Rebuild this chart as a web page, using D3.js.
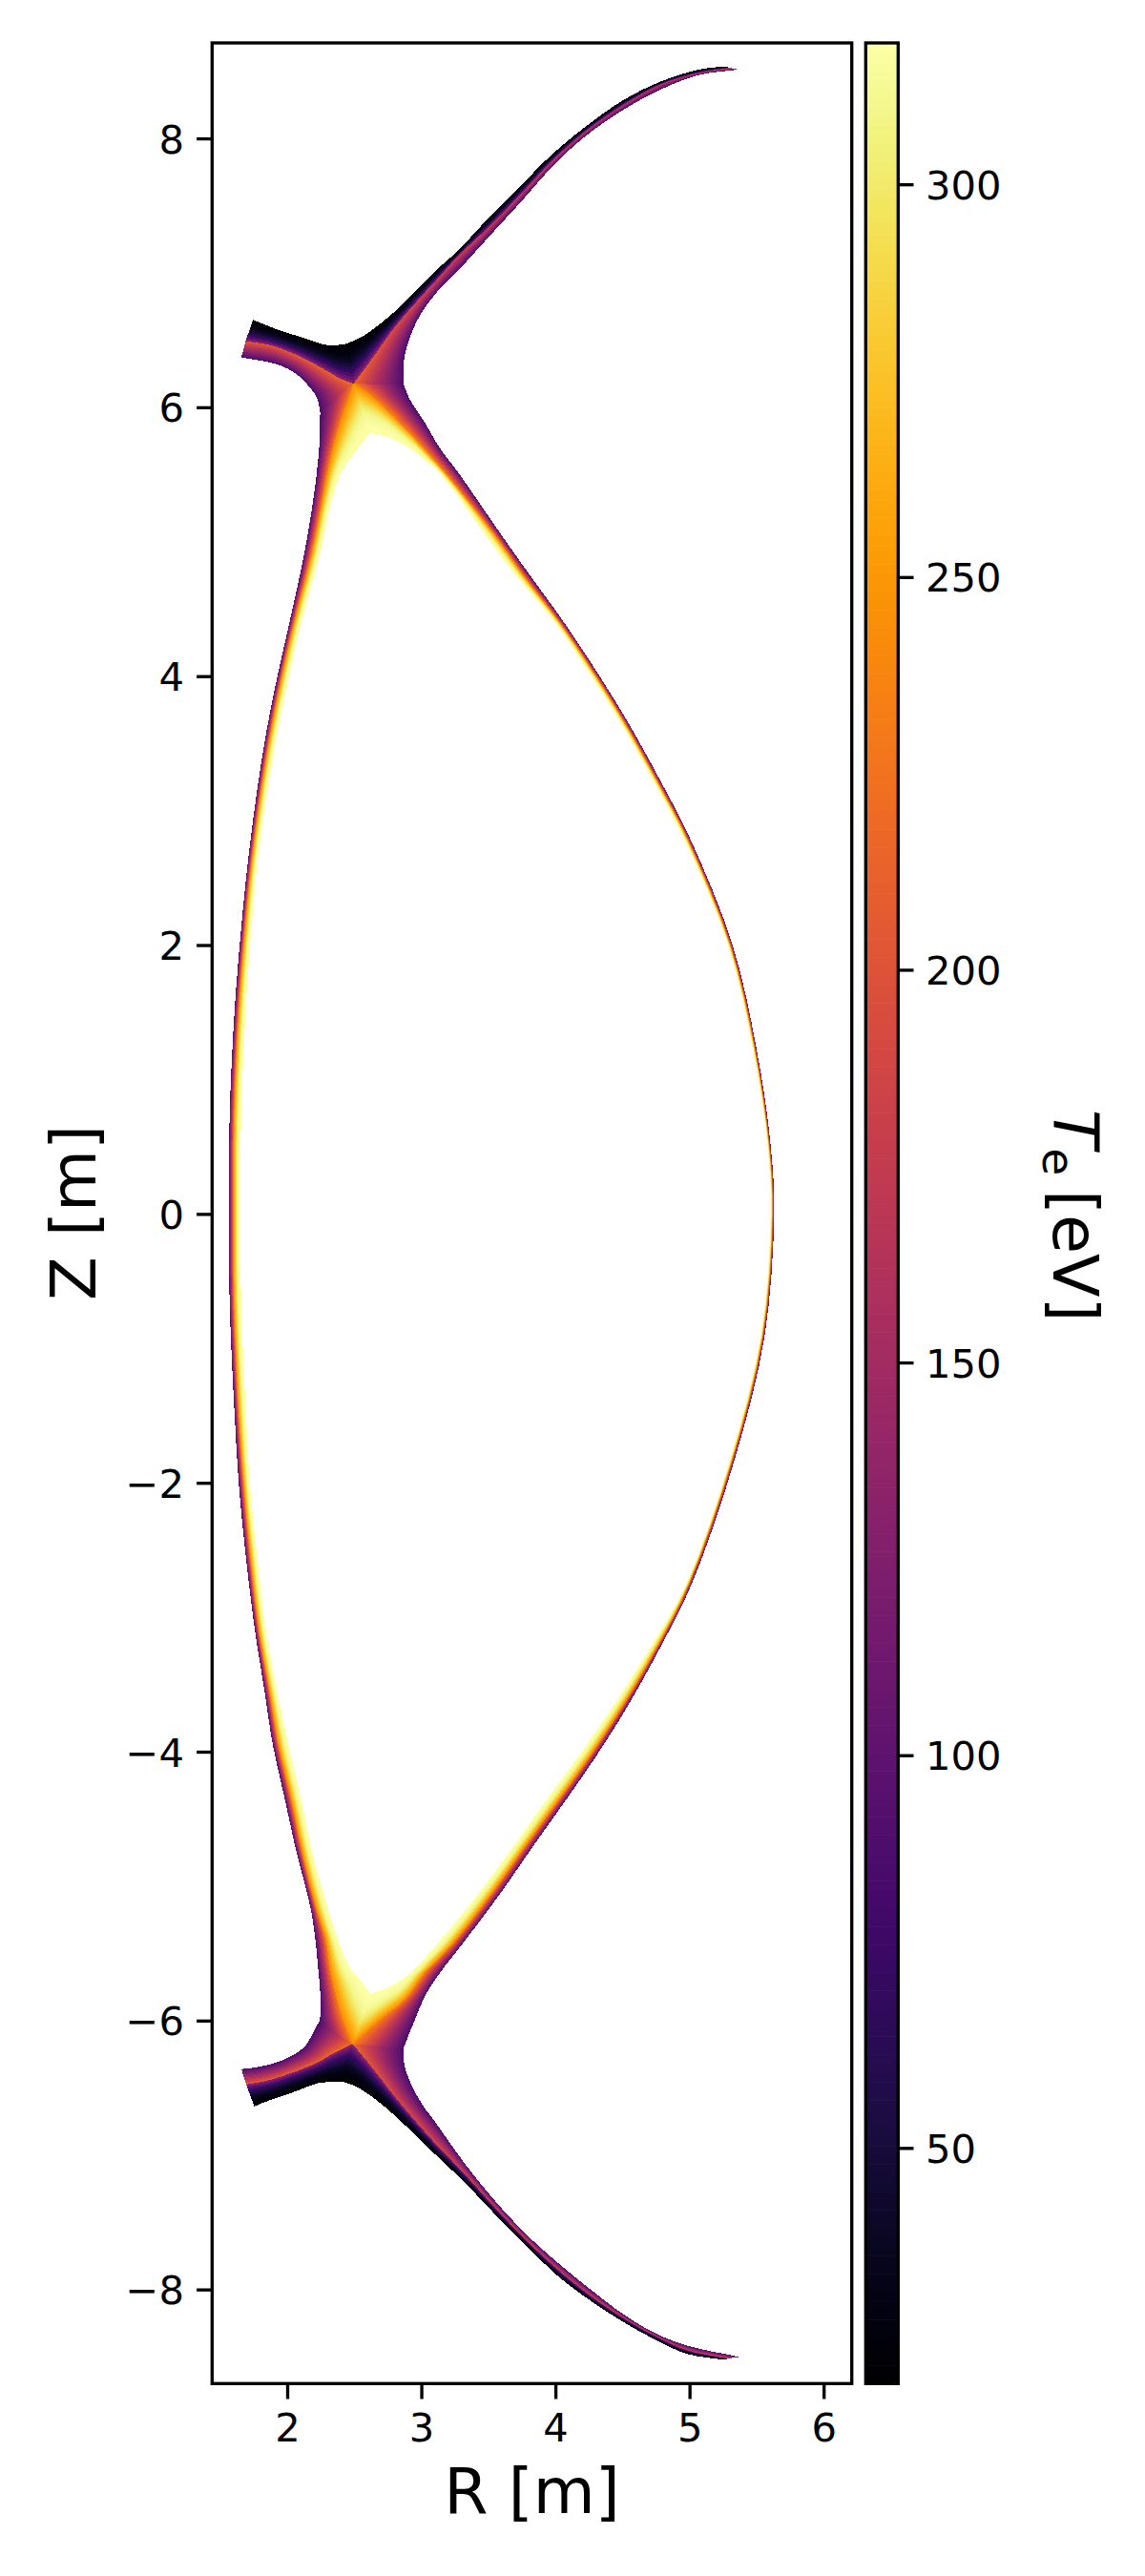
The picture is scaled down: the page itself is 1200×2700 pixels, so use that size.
<!DOCTYPE html>
<html>
<head>
<meta charset="utf-8">
<script src="https://cdnjs.cloudflare.com/ajax/libs/d3/7.8.5/d3.min.js"></script>
<style>
html,body{margin:0;padding:0;background:#fff}
svg{display:block}
text{font-family:"DejaVu Sans";fill:#000}
.axis path,.axis line{stroke:#000;stroke-width:3.33px}
.axis text{font-size:41.67px;font-family:"DejaVu Sans";fill:#000}
</style>
</head>
<body>
<svg id="chart" width="1200" height="2700"></svg>
<script>
// ---------- tick labels ----------
const rTicks = [2,3,4,5,6];
const zTicks = [-8,-6,-4,-2,0,2,4,6,8];
const teTicks = [50,100,150,200,250,300];

// ---------- limits ----------
const rDomain = [1.44,6.21];
const zDomain = [-8.70,8.71];
const teDomain = [20,318];

// ---------- upper right divertor leg: tip -> X-point corner, [R,Z] ----------
const upperRightEdge = [[5.371,8.512],[5.072,8.472],[4.788,8.365],[4.504,8.211],[4.220,8.013],[3.986,7.800],[3.751,7.537],[3.510,7.275],[3.276,7.019],[3.134,6.877],[2.991,6.686],[2.899,6.473],[2.866,6.309],[2.869,6.167]];
const upperRightSep = [[5.300,8.524],[5.072,8.488],[4.788,8.403],[4.504,8.247],[4.220,8.048],[3.986,7.842],[3.751,7.594],[3.510,7.346],[3.276,7.126],[3.134,6.969],[2.991,6.813],[2.800,6.593],[2.636,6.366],[2.494,6.175]];
const upperRightPriv = [[5.264,8.536],[5.072,8.512],[4.788,8.424],[4.504,8.283],[4.220,8.084],[3.964,7.871],[3.751,7.658],[3.510,7.417],[3.276,7.168],[3.134,7.040],[2.942,6.849],[2.755,6.671],[2.565,6.529],[2.445,6.473]];
const upperRightPeakT = [185,170,165,165,170,175,178,180,182,185,190,195,205,215];

// ---------- upper left divertor leg: target -> X-point corner ----------
const upperLeftEdge = [[1.658,6.371],[1.926,6.319],[2.068,6.248],[2.163,6.153],[2.222,6.070],[2.246,5.962]];
const upperLeftSep = [[1.690,6.492],[1.876,6.461],[2.068,6.390],[2.232,6.307],[2.400,6.212],[2.494,6.175]];
const upperLeftPriv = [[1.744,6.650],[1.926,6.579],[2.125,6.515],[2.281,6.465],[2.366,6.462],[2.445,6.473]];
const upperLeftPeakT = [205,205,208,212,216,220];

// ---------- lower left divertor leg: X-point corner -> target ----------
const lowerLeftEdge = [[2.239,-6.004],[2.175,-6.125],[2.116,-6.208],[1.947,-6.302],[1.784,-6.345],[1.658,-6.361]];
const lowerLeftSep = [[2.487,-6.175],[2.329,-6.252],[2.232,-6.309],[1.997,-6.402],[1.834,-6.451],[1.694,-6.475]];
const lowerLeftPriv = [[2.423,-6.458],[2.317,-6.458],[2.234,-6.465],[1.997,-6.551],[1.869,-6.593],[1.754,-6.638]];
const lowerLeftPeakT = [220,216,212,208,205,205];

// ---------- lower right divertor leg: X-point corner -> tip ----------
const lowerRightEdge = [[2.866,-6.208],[2.873,-6.324],[2.920,-6.465],[3.015,-6.636],[3.084,-6.728],[3.323,-7.062],[3.560,-7.353],[3.794,-7.601],[4.033,-7.814],[4.270,-8.006],[4.504,-8.183],[4.744,-8.325],[4.980,-8.417],[5.371,-8.502]];
const lowerRightSep = [[2.487,-6.175],[2.565,-6.267],[2.686,-6.416],[2.800,-6.563],[3.084,-6.891],[3.323,-7.140],[3.560,-7.402],[3.794,-7.644],[4.033,-7.864],[4.270,-8.053],[4.504,-8.211],[4.744,-8.346],[4.980,-8.451],[5.286,-8.514]];
const lowerRightPriv = [[2.423,-6.458],[2.516,-6.492],[2.658,-6.586],[2.800,-6.705],[3.084,-6.977],[3.323,-7.204],[3.560,-7.452],[3.794,-7.686],[4.033,-7.913],[4.270,-8.089],[4.504,-8.240],[4.744,-8.373],[4.980,-8.479],[5.264,-8.524]];
const lowerRightPeakT = [215,205,198,192,188,186,184,182,180,178,176,176,178,190];

// ---------- inboard side: upper X-point -> lower X-point ----------
const inboardEdge = [[2.246,5.962],[2.239,5.713],[2.222,5.529],[2.198,5.337],[2.127,4.911],[2.009,4.365],[1.914,3.939],[1.832,3.513],[1.761,3.045],[1.701,2.569],[1.654,2.094],[1.607,1.505],[1.571,0.745],[1.566,0],[1.571,-0.674],[1.607,-1.476],[1.642,-2.044],[1.701,-2.633],[1.761,-3.109],[1.832,-3.556],[1.891,-3.939],[1.985,-4.365],[2.068,-4.741],[2.175,-5.167],[2.210,-5.401],[2.229,-5.593],[2.244,-5.756],[2.249,-5.947],[2.239,-6.004]];
const inboardSep = [[2.494,6.175],[2.374,5.813],[2.303,5.529],[2.267,5.337],[2.182,4.911],[2.043,4.365],[1.947,3.939],[1.864,3.513],[1.790,3.045],[1.729,2.569],[1.683,2.094],[1.638,1.505],[1.604,0.745],[1.599,0],[1.604,-0.674],[1.638,-1.476],[1.678,-2.044],[1.734,-2.633],[1.791,-3.109],[1.869,-3.556],[1.933,-3.939],[2.033,-4.365],[2.111,-4.741],[2.217,-5.167],[2.288,-5.401],[2.317,-5.593],[2.352,-5.756],[2.402,-5.947],[2.487,-6.175]];
const inboardCore = [[2.620,5.810],[2.518,5.680],[2.411,5.527],[2.340,5.337],[2.246,4.911],[2.097,4.365],[2.002,3.939],[1.914,3.513],[1.837,3.045],[1.773,2.569],[1.731,2.094],[1.690,1.505],[1.658,0.745],[1.649,0],[1.658,-0.674],[1.692,-1.476],[1.725,-2.044],[1.786,-2.633],[1.843,-3.109],[1.926,-3.556],[2.008,-3.939],[2.107,-4.365],[2.187,-4.741],[2.305,-5.167],[2.381,-5.401],[2.459,-5.593],[2.537,-5.692],[2.580,-5.749],[2.620,-5.800]];

// ---------- outboard side: upper X-point -> lower X-point ----------
const outboardEdge = [[2.869,6.167],[2.913,6.061],[3.027,5.884],[3.141,5.692],[3.276,5.514],[3.595,5.053],[3.812,4.748],[4.069,4.393],[4.305,4.038],[4.542,3.655],[4.779,3.229],[5.009,2.782],[5.321,2.001],[5.501,1.221],[5.605,0.511],[5.631,0],[5.560,-0.908],[5.335,-1.831],[5.016,-2.754],[4.779,-3.229],[4.542,-3.655],[4.305,-4.031],[4.069,-4.372],[3.832,-4.705],[3.595,-5.046],[3.307,-5.429],[3.141,-5.642],[3.034,-5.806],[2.942,-6.018],[2.866,-6.208]];
const outboardSep = [[2.494,6.175],[2.622,6.089],[2.849,5.876],[3.070,5.635],[3.205,5.479],[3.545,5.053],[3.762,4.748],[4.036,4.393],[4.277,4.038],[4.515,3.655],[4.753,3.229],[4.987,2.782],[5.303,2.001],[5.488,1.221],[5.593,0.511],[5.619,0],[5.545,-0.908],[5.317,-1.831],[4.994,-2.754],[4.753,-3.229],[4.504,-3.655],[4.259,-4.031],[4.014,-4.372],[3.773,-4.705],[3.531,-5.046],[3.232,-5.429],[3.027,-5.642],[2.878,-5.841],[2.686,-5.997],[2.487,-6.175]];
const outboardCore = [[2.620,5.810],[2.755,5.775],[2.897,5.704],[3.039,5.598],[3.181,5.456],[3.474,5.053],[3.705,4.748],[4.000,4.393],[4.241,4.038],[4.483,3.655],[4.724,3.229],[4.962,2.782],[5.285,2.001],[5.472,1.221],[5.581,0.511],[5.605,0],[5.529,-0.908],[5.299,-1.831],[4.973,-2.754],[4.703,-3.229],[4.433,-3.655],[4.174,-4.031],[3.922,-4.372],[3.685,-4.705],[3.432,-5.046],[3.119,-5.429],[2.920,-5.642],[2.826,-5.713],[2.729,-5.763],[2.620,-5.800]];

// ---------- electron temperature across the flux tubes [eV] ----------
const sepCoreT = [250,258,267,276,285,293,300,306,310,313,315,316,317,318];   // separatrix -> core edge
const sepPrivT = [125,105,88,72,60,50,42,36,31,27,23,20];                     // separatrix -> private edge
const solEdgeT = 85;
const mainSolPeakT = 235;
const solWeights = [0.97,0.90,0.83,0.76,0.69,0.62,0.55,0.48,0.41,0.34,0.27,0.20,0.13,0.06]; // separatrix -> wall side

// ---------- scene ----------
const plot = {l:222.3, r:892.7, t:45, b:2498.3};
const bar = {l:907.3, r:941.3};
const tick = 14.6;
const svg = d3.select("#chart");
const x = d3.scaleLinear().domain(rDomain).range([plot.l,plot.r]);
const y = d3.scaleLinear().domain(zDomain).range([plot.b,plot.t]);
const teY = d3.scaleLinear().domain(teDomain).range([plot.b,plot.t]);
const color = d3.scaleSequential(d3.interpolateInferno).domain(teDomain);
const line = d3.line().x(d => x(d[0])).y(d => y(d[1]));

// Centripetal Catmull-Rom through the read stations, so that curves are drawn round
// between them. Every station keeps its index, so the curves on both sides of a band stay matched.
const SUB = 4;
function round(pts) {
  const out = [];
  const dist = (a,b) => Math.max(Math.sqrt(Math.hypot(a[0]-b[0], a[1]-b[1])), 1e-4);
  const lerp = (a,b,ta,tb,t) => [0,1].map(j => a[j] + (b[j]-a[j])*(t-ta)/(tb-ta));
  for (let i = 0; i < pts.length-1; i++) {
    const p1 = pts[i], p2 = pts[i+1];
    const p0 = i > 0 ? pts[i-1] : [2*p1[0]-p2[0], 2*p1[1]-p2[1]];
    const p3 = i < pts.length-2 ? pts[i+2] : [2*p2[0]-p1[0], 2*p2[1]-p1[1]];
    const t0 = 0, t1 = t0+dist(p0,p1), t2 = t1+dist(p1,p2), t3 = t2+dist(p2,p3);
    for (let s = 0; s < SUB; s++) {
      const t = t1 + (t2-t1)*s/SUB;
      const a1 = lerp(p0,p1,t0,t1,t), a2 = lerp(p1,p2,t1,t2,t), a3 = lerp(p2,p3,t2,t3,t);
      const b1 = lerp(a1,a2,t0,t2,t), b2 = lerp(a2,a3,t1,t3,t);
      out.push(lerp(b1,b2,t1,t2,t));
    }
  }
  out.push(pts[pts.length-1]);
  return out;
}

function mesh(a, b, cellT) {
  const cells = [];
  const m = cellT.cells;
  const mix = (p, q, f) => [p[0] + (q[0]-p[0])*f, p[1] + (q[1]-p[1])*f];
  for (let i = 0; i < a.length - 1; i++) {
    for (let k = 0; k < m; k++) {
      cells.push({
        pts: [mix(a[i],b[i],k/m), mix(a[i+1],b[i+1],k/m), mix(a[i+1],b[i+1],(k+1)/m), mix(a[i],b[i],(k+1)/m)],
        t: cellT.at(k,i)
      });
    }
  }
  return cells;
}
const fine = peaks => d3.range((peaks.length-1)*SUB+1).map(i => {
  const j = Math.min(Math.floor(i/SUB), peaks.length-2);
  return peaks[j] + (peaks[j+1]-peaks[j])*(i/SUB-j);
});
const solT = peaks => ({cells: solWeights.length, at: (k,i) => solEdgeT + (peaks[i]-solEdgeT)*solWeights[k]});
const listT = list => ({cells: list.length, at: k => list[k]});
const flat = n => fine(n.map(() => mainSolPeakT));
const rev = a => a.slice().reverse();

const ulS = round(upperLeftSep), urS = round(upperRightSep), llS = round(lowerLeftSep), lrS = round(lowerRightSep);
const ibS = round(inboardSep), obS = round(outboardSep);

const cells = [].concat(
  // scrape-off layer, inboard and outboard
  mesh(ulS.concat(ibS, llS), round(upperLeftEdge).concat(round(inboardEdge), round(lowerLeftEdge)),
       solT(fine(upperLeftPeakT).concat(flat(inboardSep), fine(lowerLeftPeakT)))),
  mesh(urS.concat(obS, lrS), round(upperRightEdge).concat(round(outboardEdge), round(lowerRightEdge)),
       solT(fine(upperRightPeakT).concat(flat(outboardSep), fine(lowerRightPeakT)))),
  // private flux regions
  mesh(ulS.concat(rev(urS)), round(upperLeftPriv).concat(rev(round(upperRightPriv))), listT(sepPrivT)),
  mesh(rev(llS).concat(lrS), rev(round(lowerLeftPriv)).concat(round(lowerRightPriv)), listT(sepPrivT)),
  // edge of the confined plasma
  mesh(ibS, round(inboardCore), listT(sepCoreT)),
  mesh(obS, round(outboardCore), listT(sepCoreT))
);

svg.append("g").attr("class","mesh").selectAll("path").data(cells).join("path")
  .attr("d", d => line(d.pts) + "Z")
  .attr("fill", d => color(d.t))
  .attr("shape-rendering","crispEdges");

// frame
svg.append("rect").attr("x",plot.l).attr("y",plot.t)
  .attr("width",plot.r-plot.l).attr("height",plot.b-plot.t)
  .attr("fill","none").attr("stroke","#000").attr("stroke-width",3.33);

// axes
const fmt = d => String(d).replace("-","\u2212");
const gx = svg.append("g").attr("class","axis").attr("transform",`translate(0,${plot.b})`)
  .call(d3.axisBottom(x).tickValues(rTicks).tickFormat(fmt).tickSize(tick+1.6).tickPadding(13.2));
const gy = svg.append("g").attr("class","axis").attr("transform",`translate(${plot.l},0)`)
  .call(d3.axisLeft(y).tickValues(zTicks).tickFormat(fmt).tickSize(tick+1.6).tickPadding(13.2));
gx.select(".domain").remove(); gy.select(".domain").remove();
gx.selectAll("text").attr("dy","0.74em");
gy.selectAll("text").attr("dy","0.36em");

// colorbar
const teStep = (teDomain[1]-teDomain[0])/256;
const teLevels = d3.range(256).map(i => teDomain[0] + teStep*i);
svg.append("g").selectAll("rect").data(teLevels).join("rect")
  .attr("x",bar.l).attr("width",bar.r-bar.l)
  .attr("y",d => teY(d+teStep)).attr("height",d => teY(d)-teY(d+teStep)+0.6)
  .attr("fill",d => color(d+teStep/2));
svg.append("rect").attr("x",bar.l).attr("y",plot.t)
  .attr("width",bar.r-bar.l).attr("height",plot.b-plot.t)
  .attr("fill","none").attr("stroke","#000").attr("stroke-width",3.33);
const gc = svg.append("g").attr("class","axis").attr("transform",`translate(${bar.r},0)`)
  .call(d3.axisRight(teY).tickValues(teTicks).tickSize(tick+1.6).tickPadding(12.5));
gc.select(".domain").remove();
gc.selectAll("text").attr("dy","0.36em");

// labels
svg.append("text").attr("x",557.5).attr("y",2634).attr("text-anchor","middle")
  .attr("font-size",66.67).text("R [m]");
svg.append("text").attr("transform","translate(100,1271) rotate(-90)").attr("text-anchor","middle")
  .attr("font-size",66.67).text("Z [m]");
const te = svg.append("text").attr("transform","translate(1104,1273) rotate(90)").attr("font-size",66.67);
te.append("tspan").attr("x",-110).attr("font-style","italic").text("T");
te.append("tspan").attr("x",-69.5).attr("dy",11.5).attr("font-size",46.67).text("e");
te.append("tspan").attr("x",-26).attr("dy",-11.5).text("[eV]");
</script>
</body>
</html>
